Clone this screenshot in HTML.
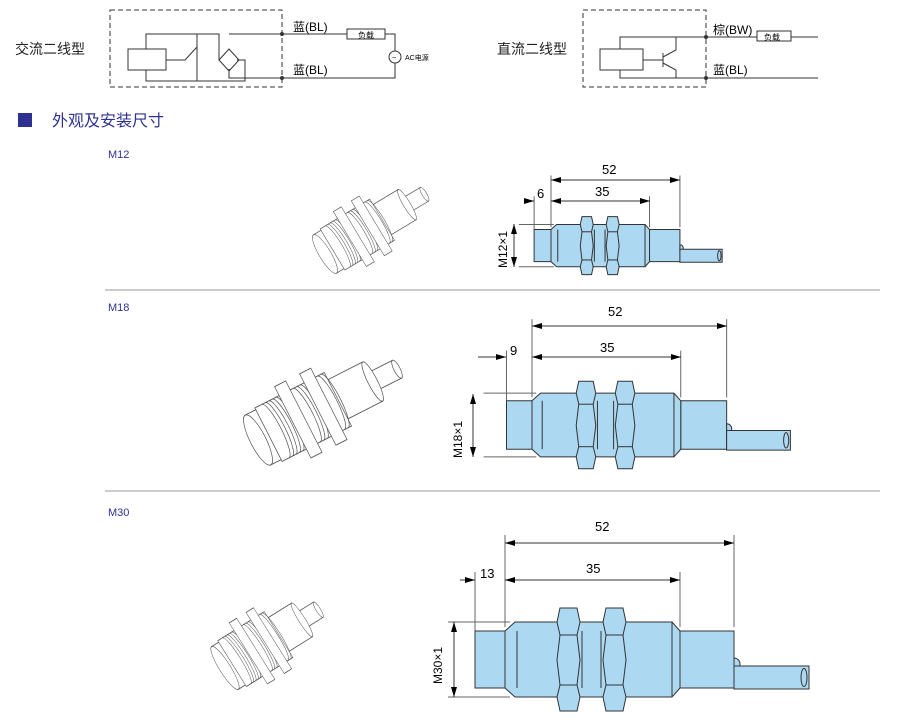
<!DOCTYPE html>
<html><head><meta charset="utf-8"><style>
html,body{margin:0;padding:0;background:#fff;}
svg{display:block;}
text{font-family:"Liberation Sans","Noto Sans CJK SC",sans-serif;}
</style></head><body>
<svg width="900" height="726" viewBox="0 0 900 726" xmlns="http://www.w3.org/2000/svg">
<defs>
<marker id="ar" viewBox="0 0 10 6" refX="10" refY="3" markerWidth="10" markerHeight="6" orient="auto-start-reverse" markerUnits="userSpaceOnUse"><path d="M0,0L10,3L0,6z" fill="#000"/></marker>
<g id="nut">
<polygon points="3,65 20,65 23,79 20,92 23,117 20,142 23,154 20,168 3,168 0,154 3,142 0,117 3,92 0,79" fill="#acd8f2" stroke="#333" stroke-width="1" vector-effect="non-scaling-stroke"/>
<line x1="3" y1="92" x2="20" y2="92" stroke="#333" vector-effect="non-scaling-stroke"/>
<line x1="3" y1="142" x2="20" y2="142" stroke="#333" vector-effect="non-scaling-stroke"/>
</g>
<g id="draw" stroke-width="1" vector-effect="non-scaling-stroke">
<g stroke="#666" vector-effect="non-scaling-stroke">
<line x1="0" y1="-8" x2="0" y2="84" vector-effect="non-scaling-stroke"/>
<line x1="229" y1="-8" x2="229" y2="84" vector-effect="non-scaling-stroke"/>
<line x1="175" y1="29" x2="175" y2="84" vector-effect="non-scaling-stroke"/>
<line x1="-30" y1="29" x2="-30" y2="88" vector-effect="non-scaling-stroke"/>
<line x1="-57" y1="79" x2="5" y2="79" vector-effect="non-scaling-stroke"/>
<line x1="-57" y1="154" x2="5" y2="154" vector-effect="non-scaling-stroke"/>
</g>
<g fill="#acd8f2" stroke="#333">
<rect x="-30" y="88" width="30" height="57" vector-effect="non-scaling-stroke"/>
<rect x="175" y="88" width="54" height="57" vector-effect="non-scaling-stroke"/>
<path d="M229,115 a6,6 0 0 1 0,12z" vector-effect="non-scaling-stroke"/>
<rect x="229" y="123" width="75" height="23" vector-effect="non-scaling-stroke"/>
<ellipse cx="299" cy="134.5" rx="3" ry="9" vector-effect="non-scaling-stroke"/>
<polygon points="0,88 10,79 167,79 175,88 175,145 167,154 10,154 0,145" vector-effect="non-scaling-stroke"/>
<line x1="12" y1="88" x2="12" y2="145" vector-effect="non-scaling-stroke"/>
<line x1="167" y1="79" x2="167" y2="154" vector-effect="non-scaling-stroke"/>
<line x1="77" y1="88" x2="77" y2="145" vector-effect="non-scaling-stroke"/>
<line x1="96" y1="88" x2="96" y2="145" vector-effect="non-scaling-stroke"/>
</g>
<use href="#nut" x="52"/>
<use href="#nut" x="98"/>
</g>
<g id="sensor" fill="#fff" stroke="#555" stroke-width="0.9">
<rect x="160" y="-10" width="40" height="20"/>
<ellipse cx="200" cy="0" rx="4" ry="10"/>
<rect x="110" y="-22" width="55" height="44"/>
<ellipse cx="165" cy="0" rx="6" ry="22"/>
<rect x="15" y="-30" width="100" height="60"/>
<path d="M25,-30a8,30 0 0 1 0,60M30,-30a8,30 0 0 1 0,60M35,-30a8,30 0 0 1 0,60M40,-30a8,30 0 0 1 0,60M45,-30a8,30 0 0 1 0,60M70,-30a8,30 0 0 1 0,60M75,-30a8,30 0 0 1 0,60M80,-30a8,30 0 0 1 0,60M105,-30a8,30 0 0 1 0,60M110,-30a8,30 0 0 1 0,60" fill="none"/>
<rect x="50" y="-40" width="16" height="80"/>
<rect x="86" y="-40" width="16" height="80"/>
<rect x="0" y="-28" width="15" height="56"/>
<ellipse cx="0" cy="0" rx="10" ry="28"/>
</g>
</defs>

<!-- AC circuit -->
<text x="15" y="54" font-size="14" fill="#222">交流二线型</text>
<rect x="110" y="10" width="172" height="77" fill="none" stroke="#333" stroke-dasharray="5,3"/>
<g stroke="#333" fill="none" stroke-width="1">
<rect x="128" y="49" width="38" height="21"/>
<path d="M146,49V34H219V60M146,70V81H245V60H237M229,34H395V52M395,63V78H229V69M166,60H185L197,47M197,34V81"/>
<polygon points="219,60 229,49 239,60 229,71"/>
<rect x="347" y="29" width="38" height="10" fill="#fff"/>
<circle cx="395" cy="57" r="6" fill="#fff"/>
</g>
<circle cx="282" cy="34" r="2" fill="#333"/><circle cx="282" cy="78" r="2" fill="#333"/>
<text x="293" y="31" font-size="12">蓝(BL)</text>
<text x="293" y="74" font-size="12">蓝(BL)</text>
<text x="358" y="38" font-size="8">负载</text>
<text x="392" y="60" font-size="7">~</text>
<text x="405" y="60" font-size="7">AC电源</text>

<!-- DC circuit -->
<text x="497" y="54" font-size="14" fill="#222">直流二线型</text>
<rect x="583" y="10" width="123" height="77" fill="none" stroke="#333" stroke-dasharray="5,3"/>
<g stroke="#333" fill="none" stroke-width="1">
<rect x="600" y="49" width="43" height="21"/>
<path d="M620,49V37H818M620,70V78H818M643,60H663M663,53V67M663,57L676,50V37M663,63L676,70V78"/>
<rect x="757" y="31" width="34" height="10" fill="#fff"/>
</g>
<circle cx="706" cy="37" r="2" fill="#333"/><circle cx="706" cy="78" r="2" fill="#333"/>
<text x="713" y="34" font-size="12">棕(BW)</text>
<text x="713" y="74" font-size="12">蓝(BL)</text>
<text x="764" y="40" font-size="8">负载</text>

<!-- Title -->
<rect x="18" y="113" width="14" height="14" fill="#2e3192"/>
<text x="52" y="126" font-size="16" fill="#2e3192">外观及安装尺寸</text>

<text x="108" y="158" font-size="11" fill="#2e3192" font-family="Liberation Mono">M12</text>
<text x="108" y="311" font-size="11" fill="#2e3192" font-family="Liberation Mono">M18</text>
<text x="108" y="516" font-size="11" fill="#2e3192" font-family="Liberation Mono">M30</text>
<line x1="105" y1="290" x2="880" y2="290" stroke="#999"/>
<line x1="105" y1="491" x2="880" y2="491" stroke="#999"/>

<!-- photos -->
<use href="#sensor" transform="translate(325,254) rotate(-31) scale(0.58,0.8)"/>
<use href="#sensor" transform="translate(258,440) rotate(-27) scale(0.78,1.0)"/>
<use href="#sensor" transform="translate(225,668) rotate(-32) scale(0.55,0.9)"/>

<!-- M12 -->
<use href="#draw" transform="translate(551,180) scale(0.563)"/>
<g stroke="#333" marker-start="url(#ar)" marker-end="url(#ar)">
<line x1="551" y1="180" x2="680" y2="180"/>
<line x1="551" y1="201" x2="650" y2="201"/>
<line x1="514" y1="224" x2="514" y2="267"/>
</g>
<line x1="525" y1="201" x2="534" y2="201" stroke="#333" marker-end="url(#ar)"/>
<text x="602" y="174" font-size="13">52</text>
<text x="595" y="196" font-size="13">35</text>
<text x="537" y="198" font-size="13">6</text>
<text font-size="12" transform="translate(507,268) rotate(-90)">M12×1</text>

<!-- M18 -->
<use href="#draw" transform="translate(532,326) scale(0.85)"/>
<g stroke="#333" marker-start="url(#ar)" marker-end="url(#ar)">
<line x1="532" y1="326" x2="727" y2="326"/>
<line x1="532" y1="357" x2="681" y2="357"/>
<line x1="473" y1="394" x2="473" y2="457"/>
</g>
<line x1="478" y1="357" x2="506" y2="357" stroke="#333" marker-end="url(#ar)"/>
<text x="608" y="316" font-size="13">52</text>
<text x="600" y="352" font-size="13">35</text>
<text x="510" y="355" font-size="13">9</text>
<text font-size="12" transform="translate(462,458) rotate(-90)">M18×1</text>

<!-- M30 -->
<use href="#draw" transform="translate(505,543)"/>
<g stroke="#333" marker-start="url(#ar)" marker-end="url(#ar)">
<line x1="505" y1="543" x2="734" y2="543"/>
<line x1="505" y1="580" x2="680" y2="580"/>
<line x1="454" y1="622" x2="454" y2="697"/>
</g>
<line x1="460" y1="580" x2="475" y2="580" stroke="#333" marker-end="url(#ar)"/>
<text x="595" y="531" font-size="13">52</text>
<text x="586" y="573" font-size="13">35</text>
<text x="480" y="578" font-size="13">13</text>
<text font-size="12" transform="translate(442,684) rotate(-90)">M30×1</text>
</svg>
</body></html>
